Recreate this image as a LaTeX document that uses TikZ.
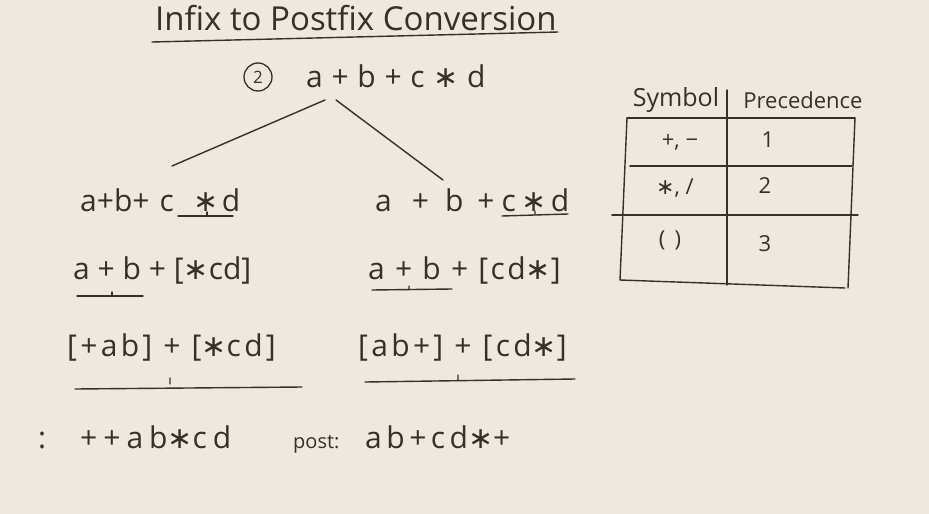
\documentclass[tikz,border=0pt]{standalone}
\usepackage{fontspec}
\setmainfont{Open Sans}
\newfontfamily\symf{DejaVu Sans}
\usetikzlibrary{positioning}
\definecolor{board}{HTML}{EEE9DE}
\definecolor{ink}{HTML}{35302B}
\newcommand{\mul}{{\symf ∗}}
\tikzset{
  expr/.style={font=\fontsize{30}{34}\selectfont\addfontfeature{LetterSpace=#1},
    text=ink, inner sep=0pt, anchor=west},
  expr/.default=0,
  cell/.style={font=\fontsize{22}{26}\selectfont, text=ink, inner sep=0pt},
  pen/.style={draw=ink, line width=1.4pt, line cap=round},
}
\begin{document}
\begin{tikzpicture}[x=1pt,y=-1pt]
  \fill[board] (0,0) rectangle (929,514);
  \useasboundingbox (0,0) rectangle (929,514);
  % title
  \node[expr, font=\fontsize{33}{38}\selectfont] (title) at (155,18) {Infix to Postfix Conversion};
  \draw[pen] (152,42) -- (558,32);
  % expression
  \node[circle, draw=ink, line width=1.3pt, minimum size=28pt, inner sep=0pt, text=ink,
        font=\fontsize{17}{20}\selectfont] (num) at (258,77) {2};
  \node[expr=3] (root) at (306,76) {a + b + c \mul{} d};
  \coordinate (rootL) at (325,100);
  \coordinate (rootR) at (336,100);
  \coordinate (legL) at (172,166);
  \coordinate (legR) at (443,180);
  \draw[pen] (rootL) -- (legL);
  \draw[pen] (rootR) -- (legR);
  % prefix side
  \node[expr] (preA) at (80,200) {a+b+\hspace{10pt}c\hspace{20pt}\mul\hspace{3pt}d};
  \node[expr] (preB) at (73,270) {a + b + [\mul cd]};
  \node[expr=11] (preC) at (67,347) {[+ab] + [\mul cd]};
  % postfix side
  \node[expr] (postA) at (375,200) {a\hspace{20pt}+\hspace{16pt}b\hspace{14pt}+\hspace{7pt}c\hspace{6pt}\mul\hspace{4pt}d};
  \node[expr=8] (postB) at (368,270) {a + b + [cd\mul]};
  \node[expr=11] (postC) at (358,347) {[ab+] + [cd\mul]};
  % underlines
  \draw[pen] (178,216) -- (233,216) (207,216) -- (207,212);
  \draw[pen] (502,216) -- (568,214) (535,215) -- (535,211);
  \draw[pen] (77,296) -- (143,296) (112,296) -- (112,292);
  \draw[pen] (372,290) -- (452,289) (409,290) -- (409,286);
  \draw[pen] (75,389) -- (302,387) (170,378) -- (170,384);
  \draw[pen] (365,382) -- (575,379) (458,380) -- (458,375);
  % results
  \node[expr] (preLbl) at (38,440) {:};
  \node[expr=20] (preRes) at (80,437) {++ab\mul cd};
  \node[expr, font=\fontsize{20}{24}\selectfont] (postLbl) at (293,444) {post:};
  \node[expr=15] (postRes) at (365,437) {ab+cd\mul+};
  % precedence table
  \node[cell, font=\fontsize{25}{28}\selectfont] (hSym) at (676,100) {Symbol};
  \node[cell] (hPre) at (803,100) {Precedence};
  \draw[pen] (727,90) -- (727,285);
  \draw[pen] (627,118) -- (855,118);
  \draw[pen] (627,118) -- (620,280);
  \draw[pen] (855,118) -- (848,288);
  \draw[pen] (630,166) -- (852,166);
  \draw[pen] (612,215) -- (858,215);
  \draw[pen] (620,280) -- (845,288);
  \node[cell] (s1) at (680,142) {+, −};
  \node[cell] (p1) at (768,140) {1};
  \node[cell] (s2) at (675,188) {\mul, /};
  \node[cell] (p2) at (765,186) {2};
  \node[cell] (s3) at (670,240) {( \,)};
  \node[cell] (p3) at (765,244) {3};
\end{tikzpicture}
\end{document}
